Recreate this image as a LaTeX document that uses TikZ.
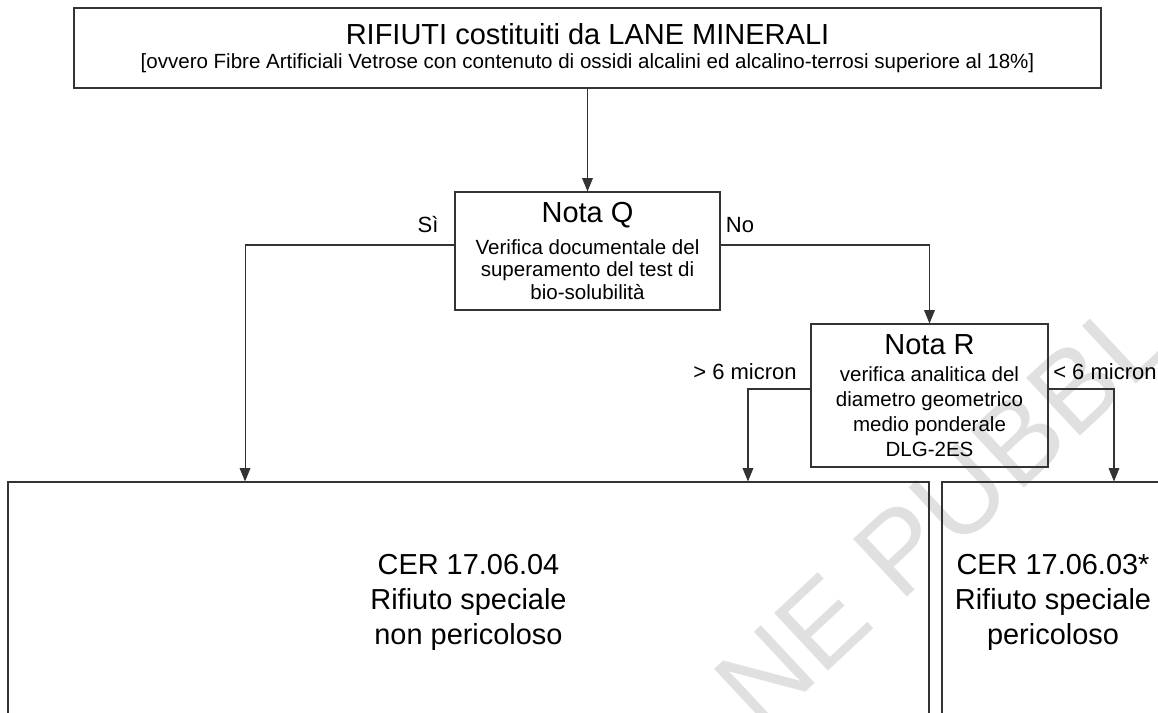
\documentclass[tikz,border=0pt]{standalone}
\usepackage{fontspec}
\setmainfont{Liberation Sans}
\usetikzlibrary{arrows.meta,positioning,calc}

\begin{document}
\begin{tikzpicture}
[x=0.75pt,y=-0.75pt,
box/.style={shape=rectangle,draw=black!80,line width=0.8pt,inner sep=0pt,align=center},
nota/.style={box,font=\fontsize{15.4}{16.9}\selectfont},
esito/.style={box,font=\fontsize{21.7}{26.25}\selectfont},
lbl/.style={font=\fontsize{16.5}{18}\selectfont,inner sep=0pt},
arr/.style={draw=black!80,line width=0.8pt,-{Triangle[width=8pt,length=10pt]}},
wmark/.style={text=black!12,font=\fontsize{86}{86}\selectfont,rotate=43,inner sep=0pt}]

\useasboundingbox (0,0) rectangle (1158,713);
\clip (0,0) rectangle (1158,713);

% filigrana
\node (wm) [wmark] at (942,512) {NE PUBBL};

\node (rifiuti) [box,minimum width=770.25pt,minimum height=60pt,
  font=\fontsize{15.4}{18}\selectfont] at (587.5,48)
  {{\fontsize{21.75}{24}\selectfont RIFIUTI costituiti da LANE MINERALI}\\[0.2pt]
   [ovvero Fibre Artificiali Vetrose con contenuto di ossidi alcalini ed alcalino-terrosi superiore al 18\%]};

\node (notaQ) [nota,minimum width=198.75pt,minimum height=88.5pt] at (587.5,251)
  {{\fontsize{21.75}{24}\selectfont Nota Q}\\[6.7pt]
   Verifica documentale del\\ superamento del test di\\ bio-solubilità};

\node (notaR) [nota,minimum width=177.75pt,minimum height=107.25pt,
  font=\fontsize{15.4}{18.75}\selectfont] at (929.5,395.5)
  {{\fontsize{21.75}{24}\selectfont Nota R}\\[1.15pt]
   verifica analitica del\\ diametro geometrico\\ medio ponderale\\ DLG-2ES};

\node (nonpericoloso) [esito,minimum width=690.75pt,minimum height=180pt] at (468.5,602)
  {CER 17.06.04\\ Rifiuto speciale\\ non pericoloso};
\node (pericoloso) [esito,minimum width=166.5pt,minimum height=180pt] at (1053,602)
  {CER 17.06.03*\\ Rifiuto speciale\\ pericoloso};

\node (si) [lbl] at (428,225) {Sì};
\node (no) [lbl] at (740,225) {No};
\node (oltre) [lbl] at (745,372) {> 6 micron};
\node (sotto) [lbl,anchor=west] at (1053,372) {< 6 micron};

\draw[arr] (rifiuti) -- (notaQ);
\draw[arr] ([yshift=4.5pt]notaQ.west) -| ([xshift=-167.6pt]nonpericoloso.north);
\draw[arr] ([yshift=4.5pt]notaQ.east) -| (notaR.north);
\draw[arr] ([yshift=4.9pt]notaR.west) -| ([xshift=209.6pt]nonpericoloso.north);
\draw[arr] ([yshift=4.9pt]notaR.east) -| ([xshift=45.75pt]pericoloso.north);

\end{tikzpicture}
\end{document}
